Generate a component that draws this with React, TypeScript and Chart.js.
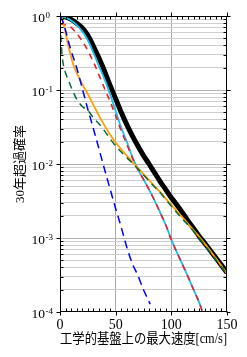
import React, { useEffect, useRef } from 'react';
import { Chart, registerables } from 'chart.js';

Chart.register(...registerables);

// ---- data ----
const speedTotal = [0, 5, 10, 15, 20, 25, 30, 35, 40, 45, 50, 55, 60, 65, 70, 75, 80, 85, 90, 95, 100, 105, 110, 115, 120, 125, 130, 135, 140, 145, 150];
const probTotal = [1.0, 0.97, 0.9, 0.8, 0.69, 0.55, 0.39, 0.27, 0.18, 0.115, 0.076, 0.05, 0.034, 0.024, 0.0175, 0.013, 0.01, 0.0076, 0.0058, 0.0045, 0.0035, 0.0028, 0.0022, 0.0017, 0.00135, 0.00106, 0.00085, 0.00068, 0.00054, 0.00043, 0.00034];

const speedCyan = [0, 5, 10, 15, 20, 25, 30, 35, 40, 45, 50, 55, 60, 65, 70, 75, 80, 85, 90, 95, 100, 105, 110, 115, 120, 125, 128];
const probCyan = [1.0, 0.95, 0.87, 0.76, 0.62, 0.47, 0.32, 0.21, 0.14, 0.088, 0.052, 0.031, 0.02, 0.0125, 0.0085, 0.0062, 0.0045, 0.0032, 0.0022, 0.0015, 0.00095, 0.00064, 0.00044, 0.0003, 0.0002, 0.000135, 0.0001];

const speedRed = [0, 5, 10, 15, 20, 25, 30, 35, 40, 45, 50, 55, 60, 65, 70, 75, 80, 85, 90, 95, 100, 105, 110, 115, 120, 125, 128];
const probRed = [0.78, 0.76, 0.7, 0.58, 0.46, 0.34, 0.24, 0.16, 0.105, 0.07, 0.045, 0.028, 0.0185, 0.0121, 0.0083, 0.0062, 0.0045, 0.0032, 0.0022, 0.0015, 0.00095, 0.00064, 0.00044, 0.0003, 0.0002, 0.000135, 0.0001];

const speedOrange = [0, 2, 4, 6, 8, 10, 12, 15, 20, 25, 30, 35, 40, 45, 50, 55, 60, 65, 70, 75, 80, 85, 90, 95, 100, 105, 110, 115, 120, 125, 130, 135, 140, 145, 150];
const probOrange = [1.0, 0.9, 0.7, 0.5, 0.37, 0.28, 0.22, 0.17, 0.12, 0.088, 0.063, 0.045, 0.033, 0.025, 0.0195, 0.0158, 0.013, 0.0107, 0.0088, 0.0073, 0.0061, 0.005, 0.0042, 0.0034, 0.0028, 0.0023, 0.0019, 0.00155, 0.00127, 0.00104, 0.00084, 0.00067, 0.00053, 0.00042, 0.00033];

const speedGreen = [0, 0.5, 1, 1.5, 2, 3, 5, 8, 10, 15, 20, 25, 30, 35, 40, 45, 50, 55, 60, 65, 70, 75, 80, 85, 90, 95, 100, 105, 110, 115, 120, 125, 130, 135, 140, 145, 150];
const probGreen = [0.8, 0.6, 0.45, 0.35, 0.28, 0.22, 0.17, 0.13, 0.11, 0.075, 0.06, 0.053, 0.042, 0.035, 0.028, 0.022, 0.0175, 0.0145, 0.0122, 0.0103, 0.0086, 0.0071, 0.0059, 0.0049, 0.0041, 0.0033, 0.0027, 0.0022, 0.0018, 0.0015, 0.00123, 0.001, 0.0008, 0.00064, 0.00051, 0.00041, 0.00032];

const speedBlue = [0, 2.5, 5, 7.5, 10, 15, 20, 25, 30, 35, 40, 45, 50, 55, 60, 65, 70, 75, 81];
const probBlue = [1.0, 0.84, 0.64, 0.46, 0.34, 0.2, 0.105, 0.055, 0.03, 0.016, 0.0085, 0.0046, 0.0025, 0.0014, 0.00075, 0.00045, 0.00031, 0.0002, 0.000128];

const xTickValues = [0, 50, 100, 150];
const yTickValues = [1, 0.1, 0.01, 0.001, 0.0001];
const yTickBase = '10';
const yTickExponents = ['0', '-1', '-2', '-3', '-4'];
const xTitle = '工学的基盤上の最大速度[cm/s]';
const yTitle = '30年超過確率';

const FONT = '"Liberation Serif", "Noto Sans CJK JP", serif';

const pts = (xs: number[], ys: number[]) => xs.map((x, i) => ({ x, y: ys[i] }));

const isDecade = (v: number) => Math.abs(Math.log10(v) - Math.round(Math.log10(v))) < 1e-6;

const framePlugin = {
  id: 'frame',
  afterDraw(chart: any) {
    const { ctx, chartArea } = chart;
    const { left, right, top, bottom } = chartArea;
    const xs = chart.scales.x;
    const ys = chart.scales.y;
    ctx.save();
    ctx.strokeStyle = '#000';
    ctx.lineWidth = 1;
    const L = left + 0.5, R = right - 0.5, T = top + 0.5, B = bottom - 0.5;
    ctx.strokeRect(L, T, R - L, B - T);
    ctx.beginPath();
    for (let v = 0; v <= 150; v += 5) {
      const px = Math.round(xs.getPixelForValue(v)) + 0.5;
      const major = xTickValues.includes(v);
      if (!major) {
        ctx.moveTo(px, T); ctx.lineTo(px, T + 3);
        ctx.moveTo(px, B); ctx.lineTo(px, B - 3);
      } else {
        ctx.moveTo(px, B); ctx.lineTo(px, B + 4);
        ctx.moveTo(px, T); ctx.lineTo(px, T - 4);
      }
    }
    ys.ticks.forEach((t: any) => {
      const py = Math.round(ys.getPixelForValue(t.value)) + 0.5;
      if (isDecade(t.value)) {
        ctx.moveTo(L, py); ctx.lineTo(L - 4, py);
        ctx.moveTo(R, py); ctx.lineTo(R + 4, py);
      } else {
        ctx.moveTo(L, py); ctx.lineTo(L + 3, py);
        ctx.moveTo(R, py); ctx.lineTo(R - 3, py);
      }
    });
    ctx.stroke();
    ctx.fillStyle = '#000';
    yTickValues.forEach((v, i) => {
      const py = ys.getPixelForValue(v);
      const xr = 45;
      ctx.font = `13.5px ${FONT}`;
      ctx.textAlign = 'right';
      ctx.textBaseline = 'alphabetic';
      ctx.fillText(yTickBase, xr, py + 5.5);
      ctx.font = `9px ${FONT}`;
      ctx.textAlign = 'left';
      ctx.fillText(yTickExponents[i], xr + 0.5, py + 2);
    });
    ctx.restore();
  },
};

export default function App() {
  const ref = useRef<HTMLCanvasElement | null>(null);
  useEffect(() => {
    if (!ref.current) return;
    const common = { pointRadius: 0, fill: false, cubicInterpolationMode: 'monotone' as const };
    const chart = new Chart(ref.current, {
      type: 'line',
      data: {
        datasets: [
          { ...common, data: pts(speedBlue, probBlue), borderColor: '#0000ff', borderWidth: 1.5, borderDash: [8, 5] },
          { ...common, data: pts(speedGreen, probGreen), borderColor: '#0b6b3a', borderWidth: 1.5, borderDash: [7, 5] },
          { ...common, data: pts(speedOrange, probOrange), borderColor: '#ffa000', borderWidth: 1.8 },
          { ...common, data: pts(speedRed, probRed), borderColor: '#e8202a', borderWidth: 1.6, borderDash: [6, 5] },
          { ...common, data: pts(speedCyan, probCyan), borderColor: '#18c0ee', borderWidth: 1.8 },
          { ...common, data: pts(speedTotal, probTotal), borderColor: '#000000', borderWidth: 5 },
        ],
      },
      options: {
        animation: false,
        responsive: false,
        layout: { padding: { top: 16, right: 20, left: 0, bottom: 0 } },
        plugins: { legend: { display: false }, tooltip: { enabled: false } },
        scales: {
          x: {
            type: 'linear',
            min: 0,
            max: 150,
            afterBuildTicks: (s: any) => { s.ticks = xTickValues.map((v) => ({ value: v })); },
            afterFit: (s: any) => { s.height = 45; },
            ticks: { color: '#000', font: { family: FONT, size: 14 }, padding: 5, maxRotation: 0, autoSkip: false },
            grid: {
              drawTicks: false,
              color: (c: any) => (c.tick && (c.tick.value === 0 || c.tick.value === 150) ? 'rgba(0,0,0,0)' : '#a8a8a8'),
              lineWidth: 1,
            },
            border: { display: false },
            title: { display: true, text: xTitle, color: '#000', font: { family: FONT, size: 14 }, padding: { top: 0, bottom: 9.6 } },
          },
          y: {
            type: 'logarithmic',
            min: 0.0001,
            max: 1,
            afterBuildTicks: (s: any) => {
              const t: any[] = [];
              for (let e = -4; e <= -1; e++) {
                for (let m = 1; m <= 9; m++) t.push({ value: parseFloat((m * Math.pow(10, e)).toPrecision(6)) });
              }
              t.push({ value: 1 });
              s.ticks = t;
            },
            afterFit: (s: any) => { s.width = 60; },
            ticks: { display: false, autoSkip: false },
            grid: {
              drawTicks: false,
              color: (c: any) => (c.tick && (c.tick.value === 1 || c.tick.value === 0.0001) ? 'rgba(0,0,0,0)' : c.tick && isDecade(c.tick.value) ? '#b4b4b4' : '#cdcdcd'),
              lineWidth: 1,
            },
            border: { display: false },
            title: { display: true, text: yTitle, color: '#000', font: { family: FONT, size: 13 }, padding: { top: 13, bottom: 0 } },
          },
        },
      },
      plugins: [framePlugin],
    });
    return () => chart.destroy();
  }, []);
  return (
    <div style={{ position: 'absolute', left: 0, top: 0, width: 247, height: 357, background: '#fff' }}>
      <canvas ref={ref} width={247} height={357} style={{ display: 'block' }} />
    </div>
  );
}
